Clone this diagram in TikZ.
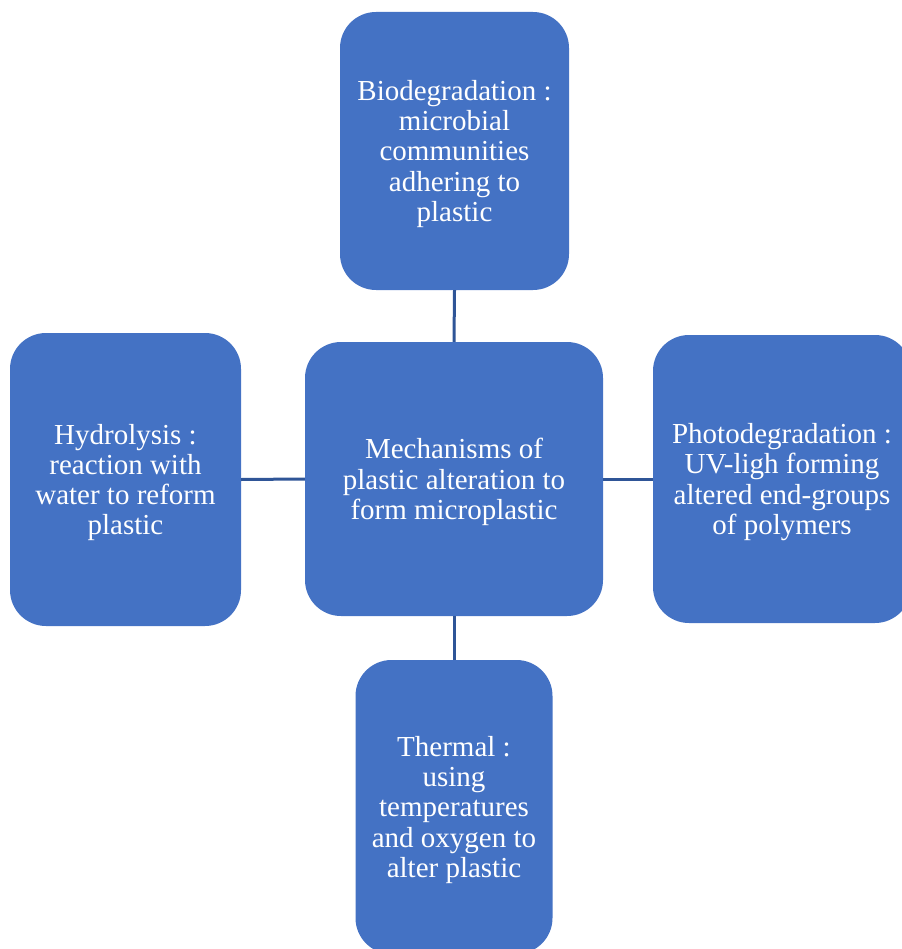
\documentclass[tikz,border=0pt]{standalone}
\usepackage{fontspec}
\setmainfont{Liberation Serif}
\definecolor{boxblue}{HTML}{4472C4}
\definecolor{linkblue}{HTML}{2F5597}
\tikzset{
  mbox/.style={rectangle, rounded corners=36pt, fill=boxblue, draw=none,
    inner sep=0pt},
  mtext/.style={text=white, align=center, inner sep=0pt,
    font=\fontsize{29}{30.3}\selectfont},
  link/.style={draw=linkblue, line width=3pt}
}
\begin{document}
\begin{tikzpicture}[x=1pt,y=-1pt]
\useasboundingbox (0,0) rectangle (901,949);
\node[mbox, minimum width=298pt, minimum height=274pt] (center) at (454,479) {};
\node[mbox, minimum width=229pt, minimum height=278pt] (top) at (454.5,151) {};
\node[mbox, minimum width=231pt, minimum height=293pt] (left) at (125.5,479.5) {};
\node[mbox, minimum width=258pt, minimum height=288pt] (right) at (782,479) {};
\node[mbox, minimum width=197pt, minimum height=294pt] (bottom) at (454,807) {};
\node[mtext] (centertext) at ([yshift=-3pt]center.center)
  {Mechanisms of\\plastic alteration to\\form microplastic};
\node[mtext] (toptext) at ([yshift=-3pt]top.center)
  {Biodegradation :\\microbial\\communities\\adhering to\\plastic};
\node[mtext] (lefttext) at ([yshift=-3pt]left.center)
  {Hydrolysis :\\reaction with\\water to reform\\plastic};
\node[mtext] (righttext) at ([yshift=-3pt]right.center)
  {Photodegradation :\\UV-ligh forming\\altered end-groups\\of polymers};
\node[mtext] (bottomtext) at ([yshift=-3pt]bottom.center)
  {Thermal :\\using\\temperatures\\and oxygen to\\alter plastic};
\draw[link] (top.south) -- (center.north);
\draw[link] (left.east) -- (center.west);
\draw[link] (center.east) -- (right.west);
\draw[link] (center.south) -- (bottom.north);
\end{tikzpicture}
\end{document}
